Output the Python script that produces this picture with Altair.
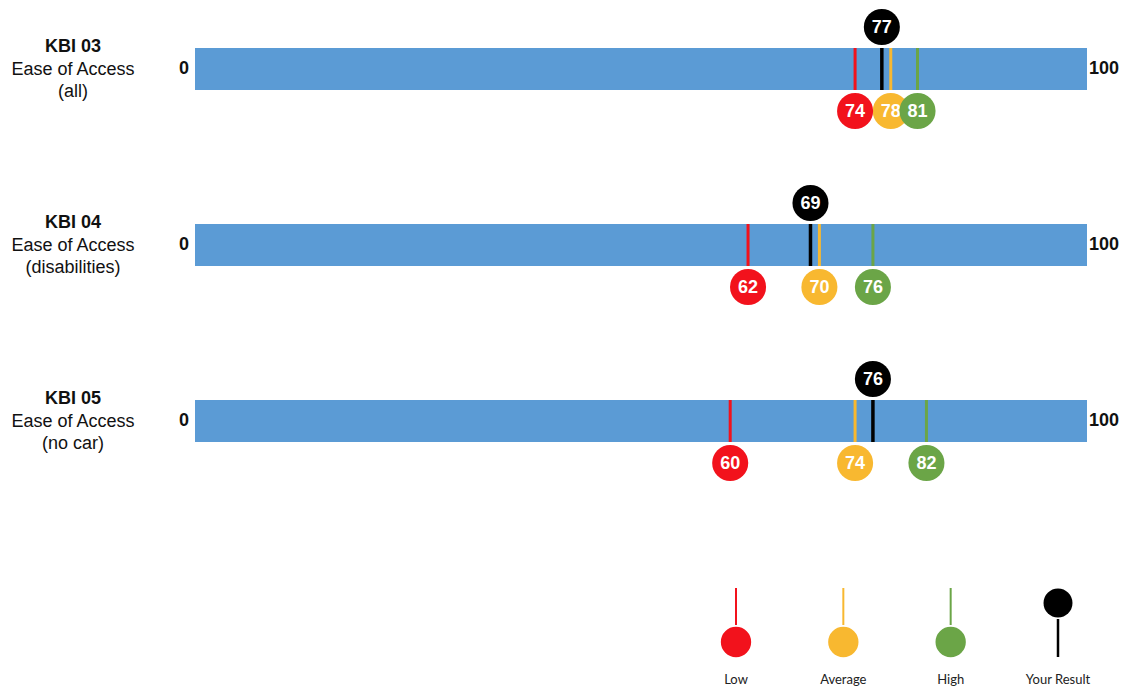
import altair as alt
import pandas as pd

# ---- data ----
kbi_codes = ["KBI 03", "KBI 04", "KBI 05"]
kbi_names = ["Ease of Access", "Ease of Access", "Ease of Access"]
kbi_groups = ["(all)", "(disabilities)", "(no car)"]
low_vals = [74, 62, 60]
avg_vals = [78, 70, 74]
high_vals = [81, 76, 82]
result_vals = [77, 69, 76]
scale_min = 0
scale_max = 100
legend_names = ["Low", "Average", "High", "Your Result"]
kind_keys = ["low", "avg", "high", "result"]
kind_colors = ["#F2121C", "#F8B830", "#6BA547", "#000000"]

# ---- tables built from the lists ----
rows = pd.DataFrame({
    "row": list(range(len(kbi_codes))),
    "code": kbi_codes,
    "name": kbi_names,
    "group": kbi_groups,
    "lo": [scale_min] * len(kbi_codes),
    "hi": [scale_max] * len(kbi_codes),
    "lo_label": [str(scale_min)] * len(kbi_codes),
    "hi_label": [str(scale_max)] * len(kbi_codes),
})

recs = []
for i in range(len(kbi_codes)):
    for k, vals in zip(kind_keys, [low_vals, avg_vals, high_vals, result_vals]):
        recs.append({"row": i, "kind": k, "value": vals[i], "label": str(vals[i])})
marks = pd.DataFrame(recs)

legend = pd.DataFrame({
    "name": legend_names,
    "kind": kind_keys,
    "row": [len(kbi_codes)] * len(legend_names),
})

xs = alt.Scale(domain=[scale_min, scale_max], range=[187, 1079])
ys = alt.Scale(domain=[0, 3], range=[56, 584])
cs = alt.Scale(domain=kind_keys, range=kind_colors)
lx = alt.Scale(type="point", domain=legend_names, range=[728, 1050], padding=0)

Y = alt.Y("row:Q", scale=ys, axis=None)
COL = alt.Color("kind:N", scale=cs, legend=None)
FONT = "Liberation Sans"

base_rows = alt.Chart(rows)
bar = base_rows.mark_rect(color="#5B9BD5", yOffset=-21, y2Offset=21).encode(
    x=alt.X("lo:Q", scale=xs, axis=None), x2="hi:Q", y=Y, y2=alt.Y2("row:Q"))

zero_lbl = base_rows.mark_text(font=FONT, fontSize=18, fontWeight="bold", align="right",
                               baseline="middle", dx=-6, color="#111").encode(
    x=alt.X("lo:Q", scale=xs, axis=None), y=Y, text="lo_label:N")
hund_lbl = base_rows.mark_text(font=FONT, fontSize=18, fontWeight="bold", align="left",
                               baseline="middle", dx=2, color="#111").encode(
    x=alt.X("hi:Q", scale=xs, axis=None), y=Y, text="hi_label:N")
code_lbl = base_rows.mark_text(font=FONT, fontSize=18, fontWeight="bold", align="center",
                               baseline="middle", dx=-122, dy=-22, color="#111").encode(
    x=alt.X("lo:Q", scale=xs, axis=None), y=Y, text="code:N")
name_lbl = base_rows.mark_text(font=FONT, fontSize=18, align="center",
                               baseline="middle", dx=-122, dy=1, color="#111").encode(
    x=alt.X("lo:Q", scale=xs, axis=None), y=Y, text="name:N")
grp_lbl = base_rows.mark_text(font=FONT, fontSize=18, align="center",
                              baseline="middle", dx=-122, dy=23, color="#111").encode(
    x=alt.X("lo:Q", scale=xs, axis=None), y=Y, text="group:N")

layers = [bar, zero_lbl, hund_lbl, code_lbl, name_lbl, grp_lbl]

base_m = alt.Chart(marks)
for k in kind_keys:
    layers.append(base_m.transform_filter(alt.datum.kind == k).mark_rule(
        strokeWidth=3.5 if k == "result" else 3, yOffset=-21, y2Offset=21).encode(
        x=alt.X("value:Q", scale=xs, axis=None), y=Y, y2=alt.Y2("row:Q"), color=COL))

for k in ["avg", "low", "high", "result"]:
    off = -42 if k == "result" else 42
    sub = base_m.transform_filter(alt.datum.kind == k)
    layers.append(sub.mark_circle(size=1300, opacity=1, yOffset=off).encode(
        x=alt.X("value:Q", scale=xs, axis=None), y=Y, color=COL))
    layers.append(sub.mark_text(font=FONT, fontSize=18, fontWeight="bold", color="white",
                                baseline="middle", align="center", dy=off + 1).encode(
        x=alt.X("value:Q", scale=xs, axis=None), y=Y, text="label:N"))

# ---- legend ----
base_l = alt.Chart(legend)
LX = alt.X("name:N", scale=lx, axis=None)
leg_col = base_l.transform_filter(alt.datum.kind != "result")
leg_res = base_l.transform_filter(alt.datum.kind == "result")
layers += [
    leg_col.mark_rule(strokeWidth=2, yOffset=-9, y2Offset=28).encode(
        x=LX, y=Y, y2=alt.Y2("row:Q"), color=COL),
    leg_col.mark_circle(size=920, opacity=1, yOffset=45).encode(x=LX, y=Y, color=COL),
    leg_res.mark_rule(strokeWidth=2.5, yOffset=22, y2Offset=60).encode(
        x=LX, y=Y, y2=alt.Y2("row:Q"), color=COL),
    leg_res.mark_circle(size=840, opacity=1, yOffset=6).encode(x=LX, y=Y, color=COL),
    base_l.mark_text(font="Lato", fontSize=13, color="#222", baseline="middle", dy=83).encode(
        x=LX, y=Y, text="name:N"),
]

chart = alt.layer(*layers).resolve_scale(x="independent").properties(
    width=1120, height=672, padding=0
).configure_view(strokeWidth=0)

chart.save("out.html", embed_options={"renderer": "svg", "actions": False})
